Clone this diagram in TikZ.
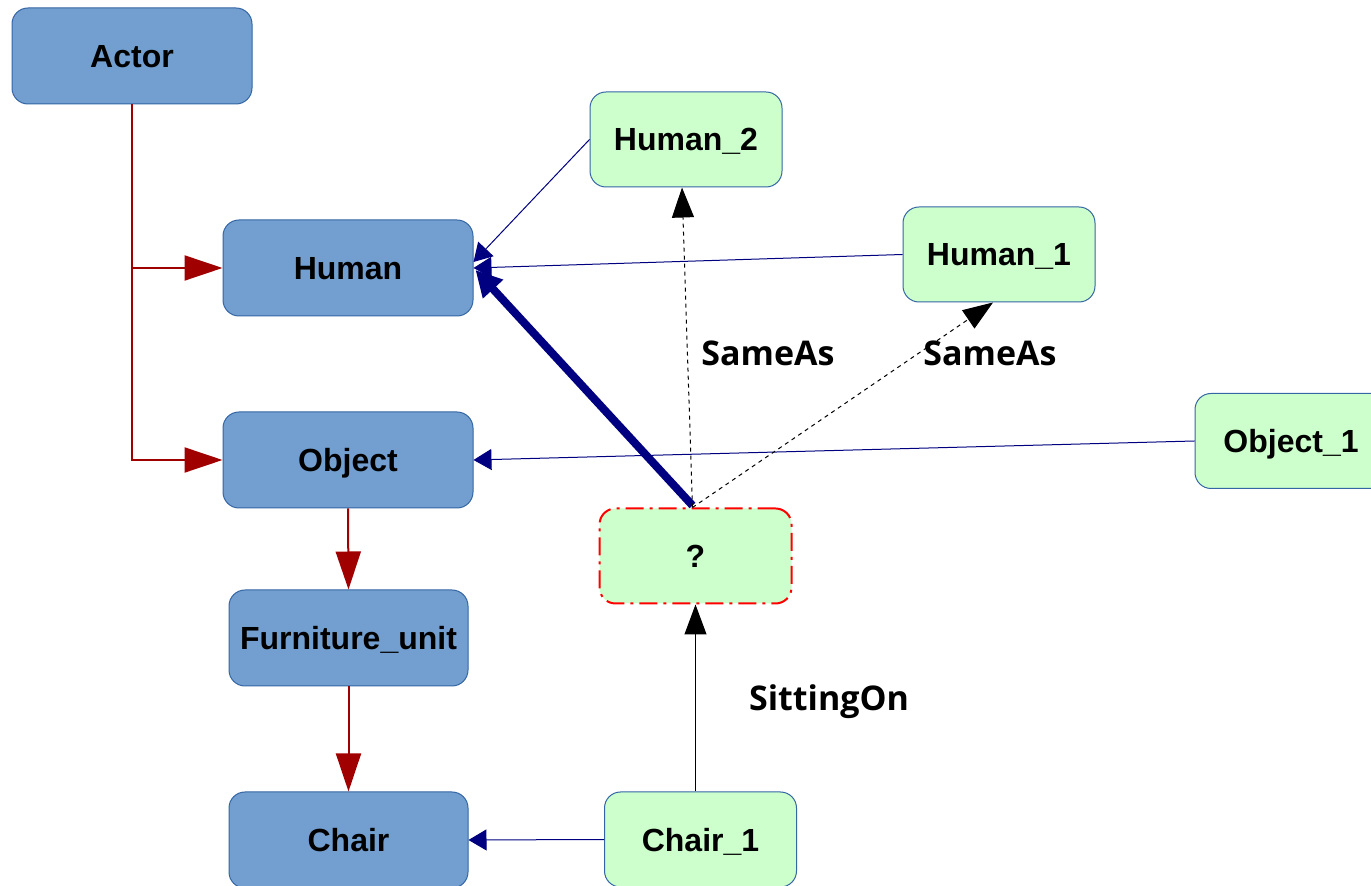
\documentclass[tikz,border=0pt]{standalone}
\usepackage{fontspec}
\setmainfont{Liberation Sans}
\newfontfamily\labelfont{Open Sans}
\usetikzlibrary{arrows.meta,calc}
\definecolor{boxblue}{HTML}{729FCF}
\definecolor{boxborder}{HTML}{3465A4}
\definecolor{boxgreen}{HTML}{CCFFCC}
\definecolor{arrred}{HTML}{A00000}
\definecolor{arrnavy}{HTML}{000080}
\tikzset{
  boxtext/.style={inner sep=0pt, text height=11.5pt, text depth=0pt, font=\fontsize{16}{19}\selectfont\bfseries},
  classbox/.style={boxtext, draw=boxborder, fill=boxblue, line width=0.5pt, rounded corners=8pt,
    minimum height=48pt},
  instbox/.style={boxtext, draw=boxborder, fill=boxgreen, line width=0.5pt, rounded corners=8pt,
    minimum width=96pt, minimum height=47.5pt},
  unknownbox/.style={boxtext, draw=red, fill=boxgreen, line width=1pt, rounded corners=8pt,
    dash pattern=on 9pt off 3pt on 1.5pt off 3pt,
    minimum width=96pt, minimum height=47.5pt},
  isa/.style={draw=arrred, line width=1pt, -{Triangle[length=19pt,width=12.5pt]}},
  inst/.style={draw=arrnavy, line width=0.5pt, -{Triangle[length=9pt,width=10.5pt]}},
  thickinst/.style={draw=arrnavy, line width=4pt, -{Triangle[length=13pt,width=13pt]}},
  relsolid/.style={draw=black, line width=0.5pt, -{Triangle[length=15pt,width=11pt]}},
  reldashed/.style={draw=black, line width=0.5pt, dash pattern=on 2pt off 2pt, -{Triangle[length=15pt,width=11pt,sep=0pt]}},
  rellabel/.style={font=\labelfont\fontsize{17}{20}\selectfont\bfseries, inner sep=0pt, text height=12pt, text depth=0pt}
}
\begin{document}
\begin{tikzpicture}[x=0.5pt,y=-0.5pt]
\useasboundingbox (0,0) rectangle (1371,886);
\clip (0,0) rectangle (1371,886);
% class nodes
\node[classbox, minimum width=120pt] (actor) at (132,56) {Actor};
\node[classbox, minimum width=125pt] (human) at (348,268) {Human};
\node[classbox, minimum width=125pt] (object) at (348,460) {Object};
\node[classbox, minimum width=119.5pt] (furn) at (348.5,638) {Furniture\_unit};
\node[classbox, minimum width=119.5pt] (chair) at (348.5,840) {Chair};
% instance nodes
\node[instbox] (human2) at (686,139.5) {Human\_2};
\node[instbox] (human1) at (999,254.5) {Human\_1};
\node[instbox] (object1) at (1291,441) {Object\_1};
\node[unknownbox] (q) at (695.5,556) {?};
\node[instbox] (chair1) at (700.5,839.5) {Chair\_1};
% is-a arrows
\draw[isa] (actor.south) |- (human.west);
\draw[isa] (actor.south) |- (object.west);
\draw[isa] (object.south) -- (furn.north);
\draw[isa] (furn.south) -- (chair.north);
% instance-of arrows
\draw[inst] (human2.west) -- ([yshift=3pt]human.east);
\draw[inst] (human1.west) -- (human.east);
\draw[inst] (object1.west) -- (object.east);
\draw[inst] (chair1.west) -- (chair.east);
\draw[thickinst] ([xshift=-1.5pt,yshift=1pt]q.north) -- ([xshift=1pt,yshift=-1pt]human.east);
% relations
\draw[relsolid] (q.south |- chair1.north) -- (q.south);
\draw[reldashed] ([xshift=-1.5pt]q.north) -- ([xshift=-2pt]human2.south);
\draw[reldashed] ([xshift=-1.5pt]q.north) -- ([xshift=-3pt]human1.south);
% labels
\node[rellabel] (lbl1) at (768,354) {SameAs};
\node[rellabel] (lbl2) at (990,354) {SameAs};
\node[rellabel] (lbl3) at (829,699) {SittingOn};
\end{tikzpicture}
\end{document}
